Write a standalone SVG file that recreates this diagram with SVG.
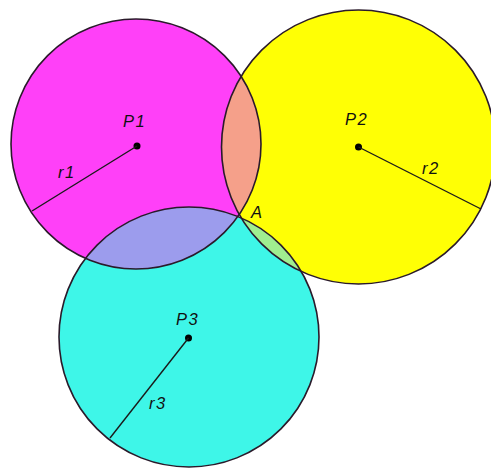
<svg xmlns="http://www.w3.org/2000/svg" width="491" height="470" viewBox="0 0 491 470">
<style>
.outline{fill:none;stroke:#2a1a2a;stroke-width:1.6}
.lbl{font-family:"Liberation Sans",Arial,sans-serif;font-size:16.5px;font-style:italic;letter-spacing:1.5px;fill:#111}
.dot{fill:#000}
.rad{stroke:#1a1a1a;stroke-width:1.4;fill:none}
</style>
<defs>
<clipPath id="c1"><circle cx="136" cy="144" r="125"/></clipPath>
<clipPath id="c2"><circle cx="358.5" cy="147" r="137"/></clipPath>
<clipPath id="c3"><circle cx="189" cy="337" r="130"/></clipPath>
</defs>
<rect width="491" height="470" fill="#fff"/>
<g id="fills">
<circle cx="136" cy="144" r="125" fill="#ff40f8"/>
<circle cx="358.5" cy="147" r="137" fill="#ffff05"/>
<circle cx="189" cy="337" r="130" fill="#3ef6e8"/>
</g>
<g id="overlaps">
<g clip-path="url(#c1)"><circle cx="358.5" cy="147" r="137" fill="#f5a08a"/></g>
<g clip-path="url(#c1)"><circle cx="189" cy="337" r="130" fill="#9c9ced"/></g>
<g clip-path="url(#c2)"><circle cx="189" cy="337" r="130" fill="#a0ee90"/></g>
</g>
<g id="P1">
<circle class="outline" cx="136" cy="144" r="125"/>
<circle class="dot" cx="137" cy="146" r="3.5"/>
<text class="lbl" x="123" y="127">P1</text>
<text class="lbl" x="58" y="178">r1</text>
</g>
<g id="P2">
<circle class="outline" cx="358.5" cy="147" r="137"/>
<circle class="dot" cx="358.5" cy="147" r="3.5"/>
<text class="lbl" x="345" y="125">P2</text>
<text class="lbl" x="422" y="174">r2</text>
</g>
<g id="P3">
<circle class="outline" cx="189" cy="337" r="130"/>
<circle class="dot" cx="188.5" cy="338" r="3.5"/>
<text class="lbl" x="176" y="325">P3</text>
<text class="lbl" x="149" y="409">r3</text>
</g>
<g id="A">
<text class="lbl" x="251" y="218">A</text>
</g>
<g id="connectors">
<line class="rad" x1="137" y1="146" x2="32" y2="211"/>
<line class="rad" x1="358.5" y1="147" x2="481" y2="209"/>
<line class="rad" x1="188.5" y1="338" x2="110" y2="438"/>
</g>
</svg>
